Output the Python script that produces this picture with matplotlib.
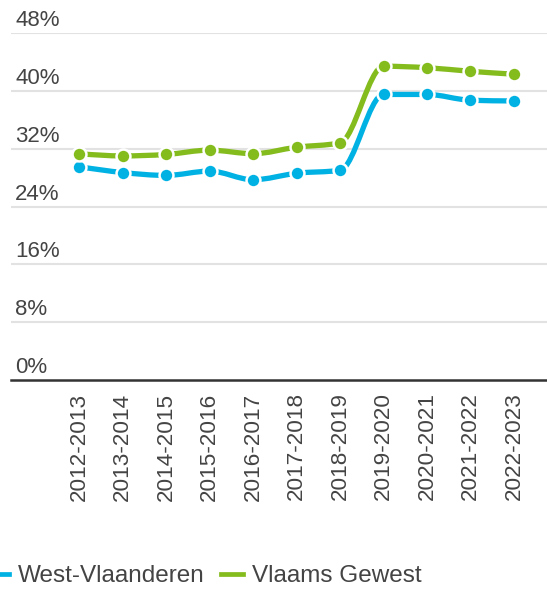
import numpy as np
import matplotlib
matplotlib.use("Agg")
import matplotlib.pyplot as plt
from matplotlib.path import Path
from matplotlib.patches import PathPatch
from matplotlib.lines import Line2D
import matplotlib.transforms as mtransforms

plt.rcParams["font.family"] = ["Liberation Sans", "DejaVu Sans"]

# data
years = ["2012-2013", "2013-2014", "2014-2015", "2015-2016", "2016-2017",
         "2017-2018", "2018-2019", "2019-2020", "2020-2021", "2021-2022",
         "2022-2023"]
west_vl = [29.5, 28.7, 28.3, 28.9, 27.7, 28.6, 29.0, 39.5, 39.5, 38.7, 38.6]
vlaams = [31.3, 31.0, 31.2, 31.8, 31.3, 32.2, 32.8, 43.4, 43.2, 42.7, 42.3]
y_ticks = [0, 8, 16, 24, 32, 40, 48]

BLUE = "#00b2e3"
GREEN = "#84bb1d"
TEXT = "#444444"


def monotone_path(x, y):
    # cubic bezier path like d3.curveMonotoneX
    x = np.asarray(x, float)
    y = np.asarray(y, float)
    n = len(x)
    h = np.diff(x)
    s = np.diff(y) / h
    t = np.zeros(n)
    for i in range(1, n - 1):
        p = (s[i - 1] * h[i] + s[i] * h[i - 1]) / (h[i - 1] + h[i])
        t[i] = (np.sign(s[i - 1]) + np.sign(s[i])) * min(abs(s[i - 1]), abs(s[i]), 0.5 * abs(p))
    t[0] = (3 * s[0] - t[1]) / 2
    t[-1] = (3 * s[-1] - t[-2]) / 2
    verts = [(x[0], y[0])]
    codes = [Path.MOVETO]
    for i in range(n - 1):
        dx = h[i] / 3
        verts += [(x[i] + dx, y[i] + dx * t[i]),
                  (x[i + 1] - dx, y[i + 1] - dx * t[i + 1]),
                  (x[i + 1], y[i + 1])]
        codes += [Path.CURVE4] * 3
    return Path(verts, codes)


W, H = 547, 592
fig = plt.figure(figsize=(W / 100, H / 100), dpi=100)
ax = fig.add_axes([11 / W, (H - 380) / H, 1 - 11 / W, (380 - 33) / H])

xs = np.arange(len(years))
ax.set_xlim(-1.57, 10.76)
ax.set_ylim(0, 48)

for v in y_ticks[1:]:
    ax.axhline(v, color="#e2e2e2", lw=1.5, zorder=0)

for vals, col in [(west_vl, BLUE), (vlaams, GREEN)]:
    ax.add_patch(PathPatch(monotone_path(xs, vals), fill=False, edgecolor=col,
                           lw=3.8, capstyle="butt", zorder=2))
    ax.plot(xs, vals, ls="none", marker="o", ms=10, mfc=col, mec="white",
            mew=1.8, zorder=3)

# y labels sit above the gridlines
off = mtransforms.offset_copy(ax.get_yaxis_transform(), fig=fig, x=4, y=7, units="dots")
for v in y_ticks:
    ax.text(0, v, f"{v}%", transform=off, ha="left", va="baseline",
            fontsize=16, color=TEXT)

ax.set_yticks([])
ax.set_xticks(xs)
ax.set_xticklabels(years, rotation=90, fontsize=16.2, color=TEXT)
ax.tick_params(axis="x", length=0, pad=9)

for side in ["top", "right", "left"]:
    ax.spines[side].set_visible(False)
ax.spines["bottom"].set_color("#333333")
ax.spines["bottom"].set_linewidth(1.8)

handles = [Line2D([], [], color=BLUE, lw=3.4), Line2D([], [], color=GREEN, lw=3.4)]
fig.legend(handles, ["West-Vlaanderen", "Vlaams Gewest"], loc="center left",
           bbox_to_anchor=(-13 / W, 1 - 576 / H), ncol=2, frameon=False,
           fontsize=17.5, labelcolor=TEXT, handlelength=0.9, handletextpad=0.37,
           columnspacing=0.66, borderpad=0, borderaxespad=0)

fig.savefig("out.png", dpi=100)
